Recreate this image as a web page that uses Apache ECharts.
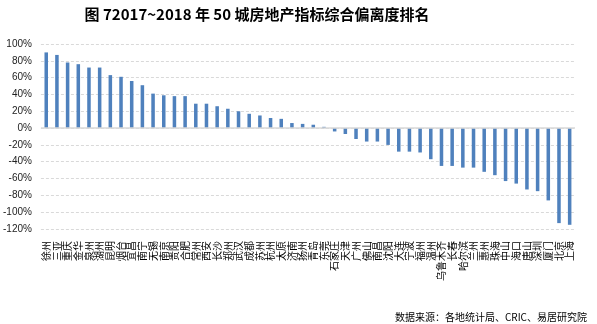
<!DOCTYPE html>
<html>
<head>
<meta charset="utf-8">
<script src="https://cdn.jsdelivr.net/npm/echarts@6/dist/echarts.min.js"></script>
<style>
  html, body { margin: 0; padding: 0; background: #fff; }
  #chart { width: 597px; height: 324px; }
</style>
</head>
<body>
<div id="chart"></div>
<script>
// 50 城房地产指标综合偏离度（%），按偏离度由高到低排列
const cities = [
  '徐州','三亚','重庆','金华','泉州','湖州','昆明','烟台','宜昌','南宁',
  '无锡','南京','贵阳','合肥','常州','西安','长沙','郑州','武汉','成都',
  '苏州','杭州','太原','济南','扬州','青岛','东莞','石家庄','天津','广州',
  '佛山','南昌','沈阳','大连','宁波','福州','温州','乌鲁木齐','长春','哈尔滨',
  '兰州','惠州','珠海','中山','海口','唐山','深圳','厦门','北京','上海'
];
const deviation = [
  90, 87, 78, 76, 72, 72, 63, 61, 56, 51,
  41, 39, 38, 38, 29, 29, 26, 23, 20, 17,
  15, 12, 11, 6, 5, 4, 1.5, -4, -7, -13,
  -16, -16, -20, -28, -28, -29, -37, -45, -45, -47,
  -47, -52, -56, -63, -66, -73, -75, -86, -113, -115
];
const yTicks = { min: -120, max: 100, step: 20 };
const titleText = '图 72017~2018 年 50 城房地产指标综合偏离度排名';
const sourceText = '数据来源：各地统计局、CRIC、易居研究院';

const chart = echarts.init(document.getElementById('chart'), null, { renderer: 'canvas' });
chart.setOption({
  backgroundColor: '#ffffff',
  animation: false,
  title: [
    {
      text: titleText,
      left: 252, top: 2, textAlign: 'center',
      textStyle: { fontFamily: 'Noto Sans CJK SC', fontSize: 15, fontWeight: 'bold', color: '#000' }
    },
    {
      text: sourceText,
      right: 5, top: 307,
      textStyle: { fontFamily: 'Noto Sans CJK SC', fontSize: 10, fontWeight: 'normal', color: '#000' }
    }
  ],
  grid: { left: 38, right: 22, top: 44, bottom: 95, containLabel: false },
  xAxis: {
    type: 'category',
    data: cities,
    axisLine: { show: false, onZero: false },
    axisTick: { show: false },
    axisLabel: {
      interval: 0, rotate: 90, margin: 12,
      fontFamily: 'Noto Sans CJK SC', fontSize: 10, color: '#000'
    },
    splitLine: { show: false }
  },
  yAxis: {
    type: 'value',
    min: yTicks.min, max: yTicks.max, interval: yTicks.step,
    axisLine: { show: false },
    axisTick: { show: false },
    axisLabel: {
      formatter: '{value}%', margin: 9,
      fontFamily: 'Liberation Sans', fontSize: 10, color: '#222'
    },
    splitLine: { lineStyle: { color: '#d9d9d9', type: [3, 2], width: 1 } }
  },
  series: [{
    type: 'bar',
    data: deviation,
    barWidth: '33%',
    itemStyle: { color: '#4f81bd' },
    markLine: {
      silent: true, symbol: 'none', label: { show: false },
      lineStyle: { color: '#d9d9d9', type: 'solid', width: 1.5 },
      data: [{ yAxis: 0 }]
    }
  }]
});
</script>
</body>
</html>
